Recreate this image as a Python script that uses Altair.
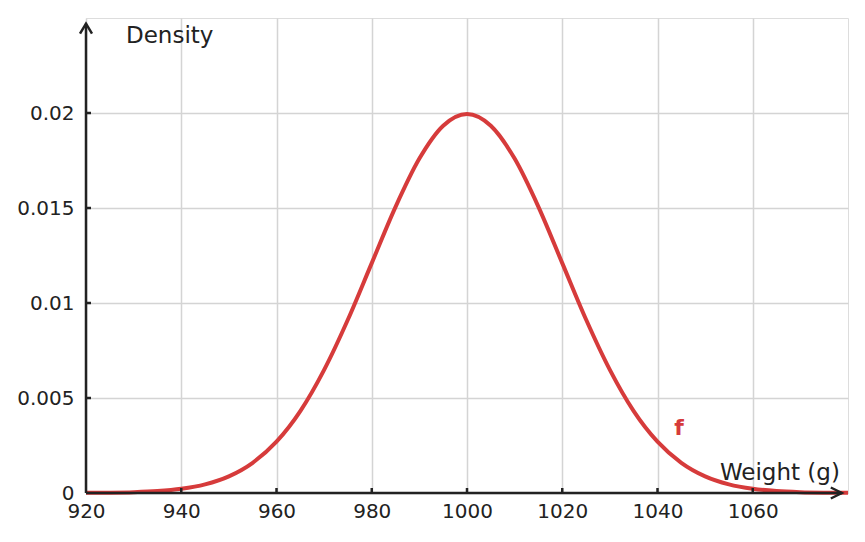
import altair as alt
import pandas as pd

# Density curve (weight in g, density)
weights = [920, 925, 930, 935, 940, 945, 950, 955, 960, 965, 970, 975, 980, 985, 990, 995,
           1000, 1005, 1010, 1015, 1020, 1025, 1030, 1035, 1040, 1045, 1050, 1055, 1060,
           1065, 1070, 1075, 1080]
density = [0.0000067, 0.0000176, 0.0000437, 0.000101, 0.000222, 0.000455, 0.000876, 0.00159,
           0.0027, 0.00431, 0.00648, 0.00913, 0.0121, 0.01506, 0.0176, 0.01933,
           0.01995, 0.01933, 0.0176, 0.01506, 0.0121, 0.00913, 0.00648, 0.00431,
           0.0027, 0.00159, 0.000876, 0.000455, 0.000222, 0.000101, 0.0000437, 0.0000176,
           0.0000067]

x_ticks = [920, 940, 960, 980, 1000, 1020, 1040, 1060]
y_ticks = [0, 0.005, 0.01, 0.015, 0.02]

X_MIN, X_MAX = 920, 1080
Y_MIN, Y_MAX = 0, 0.025
X_ARROW = 1078.7
Y_ARROW = 0.0247

FONT = "DejaVu Sans"
INK = "#222222"
RED = "#d63b3b"

curve_df = pd.DataFrame({"w": weights, "d": density})

xs = alt.Scale(domain=[X_MIN, X_MAX], nice=False, zero=False)
ys = alt.Scale(domain=[Y_MIN, Y_MAX], nice=False)

label_expr = "datum.value == 0 ? '0' : format(datum.value, '.3~f')"

base_axis_x = alt.Axis(values=x_ticks, grid=True, gridColor="#d4d4d4", gridWidth=1.5,
                       domain=False, ticks=False, labelFont=FONT, labelFontSize=20,
                       labelColor=INK, labelPadding=8, title=None, format="d",
                       labelFlush=False, labelOverlap=False)
base_axis_y = alt.Axis(values=y_ticks, grid=True, gridColor="#d4d4d4", gridWidth=1.5,
                       domain=False, ticks=False, labelFont=FONT, labelFontSize=20,
                       labelColor=INK, labelPadding=12, title=None, labelExpr=label_expr,
                       labelFlush=False, labelOverlap=False)

curve = alt.Chart(curve_df).mark_line(color=RED, strokeWidth=4, interpolate="monotone").encode(
    x=alt.X("w:Q", scale=xs, axis=base_axis_x),
    y=alt.Y("d:Q", scale=ys, axis=base_axis_y),
)

# axis lines
yaxis_df = pd.DataFrame({"x": [X_MIN], "y": [0], "y2": [Y_ARROW]})
yaxis = alt.Chart(yaxis_df).mark_rule(color=INK, strokeWidth=2.5).encode(
    x=alt.X("x:Q", scale=xs), y=alt.Y("y:Q", scale=ys), y2="y2:Q")
xaxis_df = pd.DataFrame({"x": [X_MIN], "x2": [X_ARROW], "y": [0]})
xaxis = alt.Chart(xaxis_df).mark_rule(color=INK, strokeWidth=2.5).encode(
    x=alt.X("x:Q", scale=xs), x2="x2:Q", y=alt.Y("y:Q", scale=ys))

# small tick marks inside the axes
ytick_df = pd.DataFrame({"y": y_ticks[1:]})
yticks = alt.Chart(ytick_df).mark_rule(color=INK, strokeWidth=2.5).encode(
    y=alt.Y("y:Q", scale=ys), x=alt.value(0), x2=alt.value(5))
xtick_df = pd.DataFrame({"x": x_ticks[1:]})
xticks = alt.Chart(xtick_df).mark_rule(color=INK, strokeWidth=2.5).encode(
    x=alt.X("x:Q", scale=xs), y=alt.value(475), y2=alt.value(470))

# arrowheads
up_df = pd.DataFrame({"x": [X_MIN], "y": [Y_ARROW]})
up_arrow = alt.Chart(up_df).mark_point(shape="M-0.6,1L0,0L0.6,1", size=400, filled=False,
                                       stroke=INK, strokeWidth=2.5, opacity=1).encode(
    x=alt.X("x:Q", scale=xs), y=alt.Y("y:Q", scale=ys))
right_df = pd.DataFrame({"x": [X_ARROW], "y": [0]})
right_arrow = alt.Chart(right_df).mark_point(shape="M-1,-0.5L0,0L-1,0.5", size=484, filled=False,
                                             stroke=INK, strokeWidth=2.5, opacity=1).encode(
    x=alt.X("x:Q", scale=xs), y=alt.Y("y:Q", scale=ys))

# labels
dens_df = pd.DataFrame({"x": [928.4], "y": [0.02368], "t": ["Density"]})
dens_label = alt.Chart(dens_df).mark_text(font=FONT, fontSize=23, color=INK, align="left",
                                          baseline="alphabetic").encode(
    x=alt.X("x:Q", scale=xs), y=alt.Y("y:Q", scale=ys), text="t:N")
wt_df = pd.DataFrame({"x": [1078.3], "y": [0.00068], "t": ["Weight (g)"]})
wt_label = alt.Chart(wt_df).mark_text(font=FONT, fontSize=23, color=INK, align="right",
                                      baseline="alphabetic").encode(
    x=alt.X("x:Q", scale=xs), y=alt.Y("y:Q", scale=ys), text="t:N")
f_df = pd.DataFrame({"x": [1044.5], "y": [0.00342], "t": ["f"]})
f_label = alt.Chart(f_df).mark_text(font=FONT, fontSize=22, fontWeight="bold", color=RED,
                                    align="center", baseline="middle").encode(
    x=alt.X("x:Q", scale=xs), y=alt.Y("y:Q", scale=ys), text="t:N")

chart = alt.layer(curve, yaxis, xaxis, yticks, xticks, up_arrow, right_arrow,
                  dens_label, wt_label, f_label).properties(
    width=762, height=475,
    padding={"left": 86, "top": 18, "right": 17, "bottom": 49},
    autosize="none",
).configure_view(stroke=None).configure(background="white")

chart.save("out.html", embed_options={"renderer": "svg", "actions": False})
